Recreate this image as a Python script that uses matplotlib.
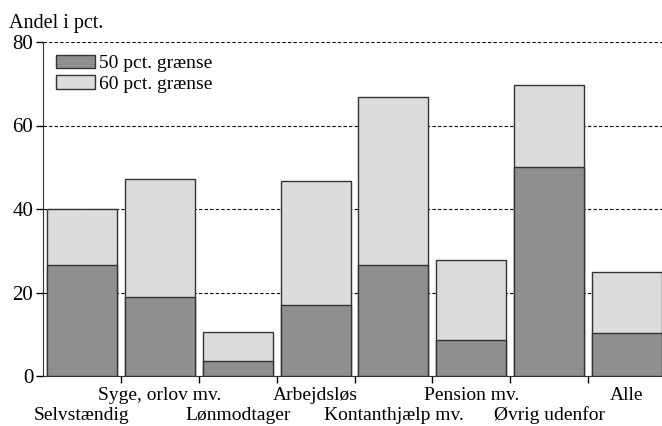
import matplotlib as mpl
mpl.use("Agg")
import matplotlib.pyplot as plt
from matplotlib.patches import Patch

kategorier = ['Selvstændig', 'Syge, orlov mv.', 'Lønmodtager', 'Arbejdsløs',
              'Kontanthjælp mv.', 'Pension mv.', 'Øvrig udenfor', 'Alle']
graense50 = [26.6, 18.9, 3.5, 16.9, 26.7, 8.6, 50.1, 10.3]
graense60 = [39.9, 47.1, 10.6, 46.7, 66.8, 27.9, 69.6, 24.9]

plt.rcParams['font.family'] = ['Liberation Serif', 'DejaVu Serif']
plt.rcParams['font.size'] = 14

lys = '#dcdcdc'
mork = '#8f8f8f'
kant = '#333333'

fig = plt.figure(figsize=(6.62, 4.26), dpi=100)
ax = fig.add_axes([43 / 662, 1 - 376 / 426, 623 / 662, 334 / 426])

x = [i + 0.5 for i in range(len(kategorier))]
ax.bar(x, graense60, width=0.9, color=lys, edgecolor=kant, linewidth=1, zorder=2)
ax.bar(x, graense50, width=0.9, color=mork, edgecolor=kant, linewidth=1, zorder=3)

ax.set_xlim(0, len(kategorier))
ax.set_ylim(0, 80)
ax.set_yticks([0, 20, 40, 60, 80])
ax.yaxis.grid(True, linestyle=(0, (3, 2)), color='black', linewidth=0.8, zorder=0)
ax.set_axisbelow(True)

ax.set_xticks(range(1, len(kategorier)))
ax.set_xticklabels([])
ax.tick_params(axis='x', direction='out', length=5, width=1)
ax.tick_params(axis='y', direction='out', length=5, width=1, pad=2, labelsize=15)

for s in ['top', 'right']:
    ax.spines[s].set_visible(False)
for s in ['left', 'bottom']:
    ax.spines[s].set_color('#333333')

# kategorinavne i to rækker
for i, navn in enumerate(kategorier):
    dy = -32 if i % 2 == 0 else -17.5
    ax.annotate(navn, xy=(x[i], 0), xytext=(0, dy), textcoords='offset points',
                ha='center', va='baseline', annotation_clip=False)

fig.text(9 / 662, 1 - 28 / 426, 'Andel i pct.', ha='left', va='baseline', fontsize=14.5)

handles = [Patch(facecolor=mork, edgecolor=kant, label='50 pct. grænse'),
           Patch(facecolor=lys, edgecolor=kant, label='60 pct. grænse')]
ax.legend(handles=handles, loc='upper left', frameon=False,
          bbox_to_anchor=(0.0, 1.0), handlelength=2.0, handletextpad=0.25,
          labelspacing=0.15, borderaxespad=0.25)

fig.savefig('out.png', dpi=100)
